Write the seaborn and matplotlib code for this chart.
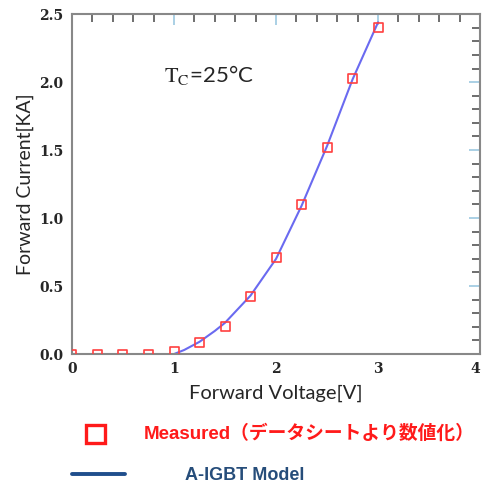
import numpy as np
import pandas as pd
import seaborn as sns
import matplotlib.pyplot as plt
from matplotlib.ticker import MultipleLocator
from matplotlib.lines import Line2D
from matplotlib.patches import Rectangle

# Measured points
meas_v = [0.0, 0.25, 0.5, 0.75, 1.0, 1.25, 1.5, 1.75, 2.0, 2.25, 2.5, 2.75, 3.0]
meas_i = [0.0, 0.0, 0.0, 0.0, 0.02, 0.085, 0.20, 0.42, 0.71, 1.10, 1.52, 2.03, 2.40]

# A-IGBT model curve
model_v = [0.0, 0.5, 0.9, 1.0, 1.1, 1.25, 1.4, 1.5, 1.75, 2.0, 2.25, 2.5, 2.75, 3.0]
model_i = [0.0, 0.0, 0.0, 0.0, 0.03, 0.09, 0.17, 0.23, 0.43, 0.70, 1.09, 1.53, 2.02, 2.44]

x_ticks = [0, 1, 2, 3, 4]
y_ticks = [0.0, 0.5, 1.0, 1.5, 2.0, 2.5]

meas = pd.DataFrame({"V": meas_v, "I": meas_i})
model = pd.DataFrame({"V": model_v, "I": model_i})

sns.set_style("white")
plt.rcParams["mathtext.fontset"] = "stix"

fig = plt.figure(figsize=(4.83, 4.87), dpi=100)
ax = fig.add_axes([0.149, 0.273, 0.845, 0.698])

sns.lineplot(data=model, x="V", y="I", ax=ax, color="#6a6af0", lw=1.5, sort=False)
sns.scatterplot(data=meas, x="V", y="I", ax=ax, marker="s", s=42,
                facecolors="none", edgecolor="#ff4040", linewidth=1.2, zorder=5)

ax.set_xlim(0, 4)
ax.set_ylim(0, 2.5)
ax.set_xticks(x_ticks)
ax.set_yticks(y_ticks)
ax.set_xticklabels([str(t) for t in x_ticks])
ax.set_yticklabels([f"{t:.1f}" for t in y_ticks])
ax.xaxis.set_minor_locator(MultipleLocator(0.2))
ax.yaxis.set_minor_locator(MultipleLocator(0.1))

ax.tick_params(which="both", direction="in", top=True, right=True)
ax.tick_params(which="major", length=8, width=1.2, color="#9cc8e0", pad=6)
ax.tick_params(which="minor", length=6, width=1.2, color="#555555")
for lab in ax.get_xticklabels() + ax.get_yticklabels():
    lab.set_fontfamily("DejaVu Serif")
    lab.set_fontweight("bold")
    lab.set_fontsize(10)
# keep the last x label inside the figure
ax.get_xticklabels()[-1].set_horizontalalignment("right")

for sp in ax.spines.values():
    sp.set_color("#888888")
    sp.set_linewidth(1.5)

ax.set_xlabel("Forward Voltage[V]", fontfamily="Lato", fontsize=14.5, labelpad=6)
ax.set_ylabel("Forward Current[KA]", fontfamily="Lato", fontsize=14, labelpad=4)

ax.text(0.9, 2.05, r"$\mathrm{T_C}$=25°C", fontfamily="Lato", fontsize=16,
        va="center", ha="left")

# custom legend below the plot
fig.patches.append(Rectangle((86 / 483, 1 - 443 / 487), 19 / 483, 18 / 487,
                             transform=fig.transFigure, fill=False,
                             edgecolor="#ff1a1a", linewidth=2.4))
fig.text(144 / 483, 1 - 434 / 487, "Measured（データシートより数値化）",
         family=["Liberation Sans", "Noto Sans CJK JP"], fontweight="bold",
         color="#ff1a1a", fontsize=13.5, va="center", ha="left")
fig.lines.append(Line2D([72 / 483, 125 / 483], [1 - 474 / 487, 1 - 474 / 487],
                        transform=fig.transFigure, color="#1f4e8c", lw=2.8))
fig.text(185 / 483, 1 - 475 / 487, "A-IGBT Model",
         family=["Liberation Sans", "Noto Sans CJK JP"], fontweight="bold",
         color="#264d7a", fontsize=13, va="center", ha="left")

fig.savefig("out.png", dpi=100)
